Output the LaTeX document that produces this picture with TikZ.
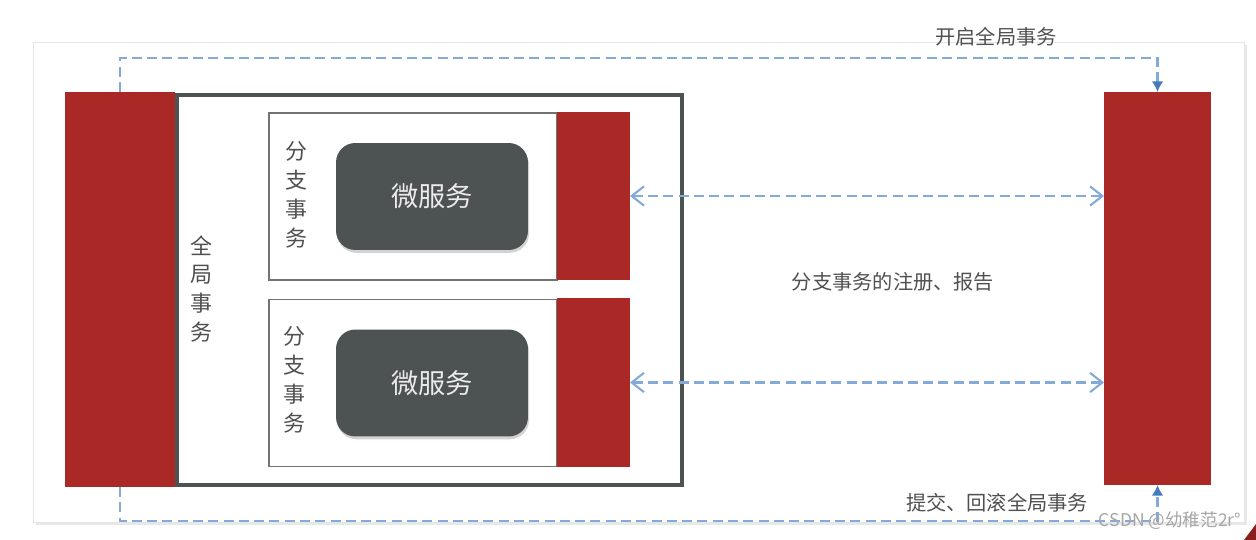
\documentclass[tikz,border=0pt]{standalone}
\usepackage{fontspec}
\setmainfont{Noto Sans CJK SC}
\usepackage{tikz}
\usetikzlibrary{positioning,calc}
\usetikzlibrary{arrows.meta,shadows}
\definecolor{TxRed}{RGB}{170,40,38}
\definecolor{SvcGray}{RGB}{77,82,82}
\definecolor{FlowBlue}{RGB}{132,170,218}
\definecolor{TipBlue}{RGB}{70,122,190}
\definecolor{TextGray}{RGB}{80,80,80}
\tikzset{
  card/.style={fill=white,draw=black!10,inner sep=0pt,minimum width=24.22cm,minimum height=9.6cm,
    drop shadow={shadow xshift=1.5pt,shadow yshift=-1.5pt,opacity=0.18}},
  bar/.style={fill=TxRed,draw=none,inner sep=0pt,outer sep=0pt},
  gbox/.style={draw=SvcGray,line width=2.2pt,fill=white,inner sep=0pt,minimum width=10.1cm,minimum height=7.8cm},
  branch/.style={draw=black!55,fill=white,line width=0.8pt,inner sep=0pt,outer sep=0pt,
    minimum width=5.76cm,minimum height=3.34cm},
  svc/.style={fill=SvcGray,rounded corners=11pt,minimum width=3.84cm,minimum height=2.14cm,
    text=black!8,font=\fontsize{15.5}{18}\selectfont,
    drop shadow={shadow xshift=0.6pt,shadow yshift=-1.6pt,opacity=0.35}},
  vlabel/.style={text=TextGray,align=center,font=\fontsize{12.5}{16.5}\selectfont},
  flow/.style={draw=FlowBlue,line width=1.2pt,dash pattern=on 5.7pt off 3pt},
  tip/.style={-{Latex[length=6pt,width=6.5pt,color=TipBlue]}},
  both/.style={{Straight Barb[length=7pt,width=11pt]}-{Straight Barb[length=7pt,width=11pt]}},
  note/.style={text=TextGray,font=\fontsize{11.5}{13}\selectfont},
}

\begin{document}
\begin{tikzpicture}[x=0.02cm,y=-0.02cm]
\useasboundingbox (0,0) rectangle (1256,540);
\fill[white] (0,0) rectangle (1256,540);
\node[card] (sheet) at (638.5,282) {};
\node[gbox] (gtx) at (429.5,290) {};
\node[bar,minimum width=2.2cm,minimum height=7.9cm] (tm) at (120,289.5) {};
\node[bar,minimum width=2.14cm,minimum height=7.86cm] (tc) at (1157.5,288.5) {};
\node[vlabel] (gname) at (201,289) {全\\局\\事\\务};
\node[branch] (br1) at (413,196.5) {};
\node[bar,minimum width=1.46cm,minimum height=3.36cm] (rm1) at (593.5,196) {};
\node[svc] (svc1) at (432,196.5) {微服务};
\node[vlabel] (bname1) at (296,195) {分\\支\\事\\务};
\node[branch] (br2) at (413,383) {};
\node[bar,minimum width=1.46cm,minimum height=3.38cm] (rm2) at (593.5,382.5) {};
\node[svc] (svc2) at (432,383) {微服务};
\node[vlabel] (bname2) at (294,380) {分\\支\\事\\务};
\draw[flow,tip] (tm.north) -- ++(0,-34) -| (tc.north);
\draw[flow,tip] (tm.south) -- ++(0,34) -| (tc.south);
\draw[flow,both] (rm1.east) -- (rm1.east -| tc.west);
\draw[flow,both] (rm2.east) -- (rm2.east -| tc.west);
\node[note] (begin) at (996,37) {开启全局事务};
\node[note] (report) at (893,282) {分支事务的注册、报告};
\node[note] (commit) at (997,503) {提交、回滚全局事务};
\node[text=black!35,font=\fontsize{10}{11}\selectfont] (mark) at (1170,521) {CSDN @幼稚范2r°};
\fill[TxRed!80!black] (1256,524) -- (1256,540) -- (1244,540) -- cycle;
\end{tikzpicture}
\end{document}
